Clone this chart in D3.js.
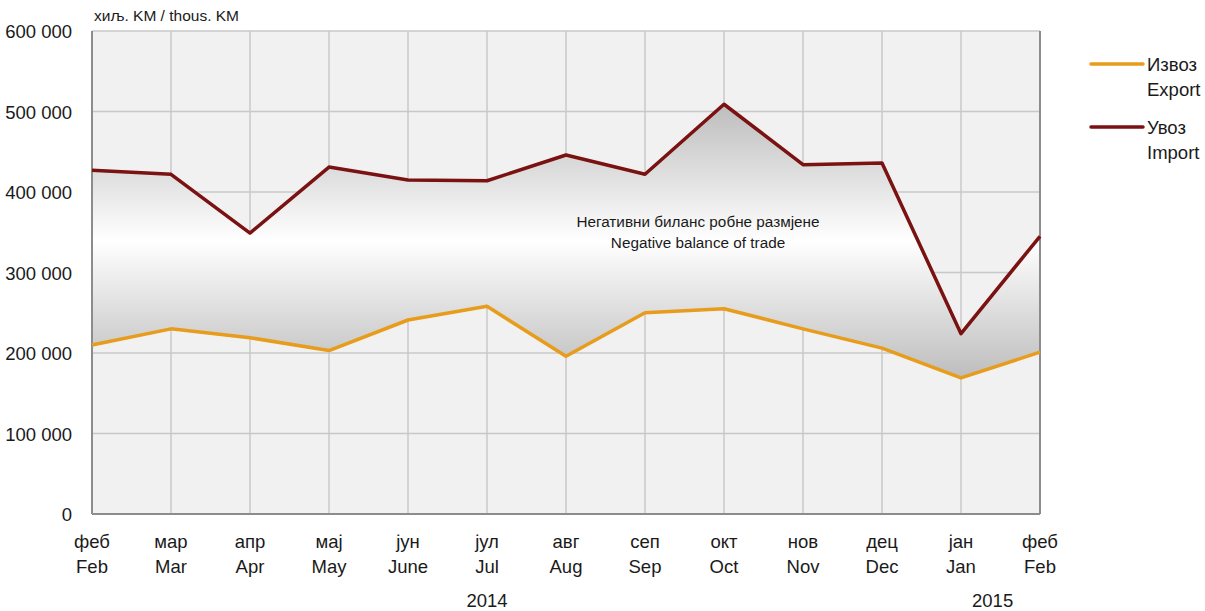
<!DOCTYPE html>
<html lang="sr">
<head>
<meta charset="UTF-8">
<title>Извоз / Увоз</title>
<style>
    body { margin: 0; background: #fff; }
    svg text { font-family: "Liberation Sans Narrow", "Arial Narrow", "Liberation Sans", sans-serif; fill: #1a1a1a; }
</style>
</head>
<body>
<svg id="chart" width="1205" height="611"></svg>
<script src="https://d3js.org/d3.v7.min.js"></script>
<script>
// months (Cyrillic / Latin)
const monthsSr = ["феб", "мар", "апр", "мај", "јун", "јул", "авг", "сеп", "окт", "нов", "дец", "јан", "феб"];
const monthsEn = ["Feb", "Mar", "Apr", "May", "June", "Jul", "Aug", "Sep", "Oct", "Nov", "Dec", "Jan", "Feb"];
const exportVals = [210000, 230000, 219000, 203000, 241000, 258000, 196000, 250000, 255000, 230000, 206000, 169000, 201000];
const importVals = [427000, 422000, 349000, 431000, 415000, 414000, 446000, 422000, 509000, 434000, 436000, 224000, 345000];
const yTicks = [0, 100000, 200000, 300000, 400000, 500000, 600000];
const years = [{ label: "2014", at: 5 }, { label: "2015", at: 11.4 }];

const svg = d3.select("#chart");
const plotL = 92, plotR = 1040, plotT = 31, plotB = 514;

const x = d3.scaleLinear().domain([0, monthsSr.length - 1]).range([plotL, plotR]);
const y = d3.scaleLinear().domain([0, 600000]).range([plotB, plotT]);

const fmt = v => d3.format(",")(v).replace(/,/g, " ");

// plot background
svg.append("rect")
    .attr("x", plotL).attr("y", plotT)
    .attr("width", plotR - plotL).attr("height", plotB - plotT)
    .attr("fill", "#f1f1f1");

// grid
svg.append("g").selectAll("line")
    .data(yTicks.slice(1))
    .join("line")
    .attr("x1", plotL).attr("x2", plotR)
    .attr("y1", d => y(d)).attr("y2", d => y(d))
    .attr("stroke", "#c8c8c8").attr("stroke-width", 1.5);

svg.append("g").selectAll("line")
    .data(d3.range(1, monthsSr.length - 1))
    .join("line")
    .attr("x1", d => x(d)).attr("x2", d => x(d))
    .attr("y1", plotT).attr("y2", plotB)
    .attr("stroke", "#c8c8c8").attr("stroke-width", 1.5);

// gradient for trade balance area
const grad = svg.append("defs").append("linearGradient")
    .attr("id", "gap").attr("x1", 0).attr("x2", 0).attr("y1", 0).attr("y2", 1);
grad.append("stop").attr("offset", "0%").attr("stop-color", "#bdbdbd");
grad.append("stop").attr("offset", "50%").attr("stop-color", "#ffffff");
grad.append("stop").attr("offset", "100%").attr("stop-color", "#bdbdbd");

const idx = d3.range(monthsSr.length);
svg.append("path")
    .datum(idx)
    .attr("fill", "url(#gap)")
    .attr("d", d3.area()
        .x(i => x(i))
        .y0(i => y(exportVals[i]))
        .y1(i => y(importVals[i])));

// frame
svg.append("line").attr("x1", plotL).attr("x2", plotL).attr("y1", plotT).attr("y2", plotB)
    .attr("stroke", "#8c8c8c").attr("stroke-width", 2);
svg.append("line").attr("x1", plotR).attr("x2", plotR).attr("y1", plotT).attr("y2", plotB)
    .attr("stroke", "#8c8c8c").attr("stroke-width", 2);
svg.append("line").attr("x1", plotL).attr("x2", plotR).attr("y1", plotB).attr("y2", plotB)
    .attr("stroke", "#8c8c8c").attr("stroke-width", 2);

// series lines
const line = d3.line().x((d, i) => x(i)).y(d => y(d));
svg.append("path").datum(exportVals)
    .attr("fill", "none").attr("stroke", "#e79c1b").attr("stroke-width", 3.5)
    .attr("stroke-linejoin", "round").attr("d", line);
svg.append("path").datum(importVals)
    .attr("fill", "none").attr("stroke", "#7a1212").attr("stroke-width", 3.5)
    .attr("stroke-linejoin", "round").attr("d", line);

// y axis labels
svg.append("g").selectAll("text")
    .data(yTicks)
    .join("text")
    .attr("x", 72).attr("y", d => y(d) + 7)
    .attr("text-anchor", "end")
    .attr("font-size", 18.5)
    .text(fmt);

svg.append("text").attr("x", 94).attr("y", 21).attr("font-size", 15.5)
    .text("хиљ. KM / thous. KM");

// x axis labels
const xl = svg.append("g").selectAll("g").data(idx).join("g");
xl.append("text").attr("x", i => x(i)).attr("y", 548).attr("text-anchor", "middle")
    .attr("font-size", 18.5).text(i => monthsSr[i]);
xl.append("text").attr("x", i => x(i)).attr("y", 573).attr("text-anchor", "middle")
    .attr("font-size", 18.5).text(i => monthsEn[i]);

svg.append("g").selectAll("text").data(years).join("text")
    .attr("x", d => x(d.at)).attr("y", 607).attr("text-anchor", "middle")
    .attr("font-size", 18.5).text(d => d.label);

// annotation
const mid = svg.append("text").attr("text-anchor", "middle").attr("font-size", 15.3);
mid.append("tspan").attr("x", 698).attr("y", 227).text("Негативни биланс робне размјене");
mid.append("tspan").attr("x", 698).attr("y", 248).text("Negative balance of trade");

// legend
const legend = [
    { sr: "Извоз", en: "Export", color: "#e79c1b", y: 64 },
    { sr: "Увоз", en: "Import", color: "#7a1212", y: 127 }
];
const lg = svg.append("g").selectAll("g").data(legend).join("g");
lg.append("line").attr("x1", 1091).attr("x2", 1143)
    .attr("y1", d => d.y).attr("y2", d => d.y)
    .attr("stroke", d => d.color).attr("stroke-width", 3.5).attr("stroke-linecap", "round");
lg.append("text").attr("x", 1147).attr("y", d => d.y + 7).attr("font-size", 18.5).text(d => d.sr);
lg.append("text").attr("x", 1147).attr("y", d => d.y + 32).attr("font-size", 18.5).text(d => d.en);
</script>
</body>
</html>
